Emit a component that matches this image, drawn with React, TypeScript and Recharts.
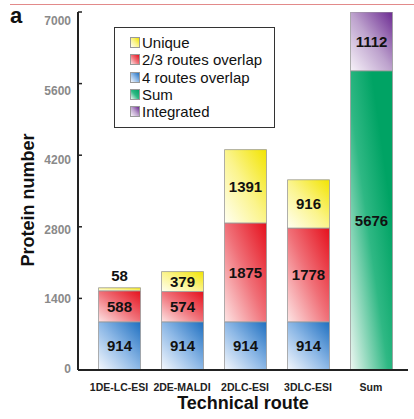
import { BarChart, Bar, XAxis, YAxis, Legend, LabelList } from "recharts";

const categories = ["1DE-LC-ESI", "2DE-MALDI", "2DLC-ESI", "3DLC-ESI", "Sum"];
const fourRoutes = [914, 914, 914, 914, null];
const twoThreeRoutes = [588, 574, 1875, 1778, null];
const uniqueValues = [58, 379, 1391, 916, null];
const sumValues = [null, null, null, null, 5676];
const integratedValues = [null, null, null, null, 1112];
const yTicks = [0, 1400, 2800, 4200, 5600, 7000];

const FONT = '"Liberation Sans", Arial, sans-serif';

// light (bottom-left) -> strong (top-right)
const gradients = {
  blue: ["#f5f8fd", "#8db8e6", "#1e6fc0"],
  red: ["#fde4e4", "#f07078", "#e5101c"],
  yellow: ["#fffff2", "#fbf48c", "#f2e400"],
  green: ["#eef7f2", "#2fb884", "#00a364"],
  purple: ["#f7f2f9", "#bda2cd", "#6c2a92"],
};

const legendItems = [
  { label: "Unique", color: "yellow" },
  { label: "2/3 routes overlap", color: "red" },
  { label: "4 routes overlap", color: "blue" },
  { label: "Sum", color: "green" },
  { label: "Integrated", color: "purple" },
];

const data = categories.map((name, i) => ({
  name,
  four: fourRoutes[i],
  twoThree: twoThreeRoutes[i],
  unique: uniqueValues[i],
  sum: sumValues[i],
  integrated: integratedValues[i],
}));

function renderBarLabel(props: any) {
  const { x, y, width, height, value } = props;
  if (value == null || !value) return null;
  const cx = Number(x) + Number(width) / 2;
  const cy = Number(height) < 18 ? Number(y) - 12 : Number(y) + Number(height) / 2;
  return (
    <text
      x={cx}
      y={cy}
      textAnchor="middle"
      dominantBaseline="central"
      fontSize={15}
      fontWeight={700}
      fontFamily={FONT}
      fill="#111"
    >
      {value}
    </text>
  );
}

// tick marks point inward (right of the axis line), labels sit a bit lower
function YTick(props: any) {
  const { x, y, payload } = props;
  const ax = x + 4;
  const v = payload.value;
  const off = v / 700 - 1;
  return (
    <g>
      <line x1={ax} x2={ax + 4} y1={y} y2={y} stroke="#222" strokeWidth={1.5} />
      <text
        x={ax - 7}
        y={y + off}
        textAnchor="end"
        dominantBaseline="central"
        fontSize={12}
        fontWeight={700}
        fontFamily={FONT}
        fill="#8a8a8a"
      >
        {v}
      </text>
    </g>
  );
}

function LegendBox() {
  return (
    <div
      style={{
        boxSizing: "border-box",
        width: 161,
        height: 101,
        border: "1.5px solid #333",
        background: "#fff",
        paddingTop: 6,
        paddingLeft: 15,
        fontFamily: FONT,
        fontSize: 15,
        color: "#111",
        textAlign: "left",
      }}
    >
      {legendItems.map((it) => {
        const g = gradients[it.color as keyof typeof gradients];
        return (
          <div key={it.label} style={{ height: 17.3, lineHeight: "17.3px", display: "flex", alignItems: "center" }}>
            <span
              style={{
                display: "inline-block",
                width: 8,
                height: 9,
                marginRight: 2,
                border: "0.5px solid #999",
                background: `linear-gradient(to top right, ${g[0]}, ${g[1]}, ${g[2]})`,
              }}
            />
            <span>{it.label}</span>
          </div>
        );
      })}
    </div>
  );
}

const barStroke = { stroke: "#9a9a9a", strokeWidth: 0.8 };

export default function App() {
  return (
    <div style={{ position: "absolute", left: 0, top: 0, width: 414, height: 419, background: "#fff", fontFamily: FONT }}>
      <div style={{ position: "absolute", left: 10, right: 0, top: 4, height: 1, background: "#e28a8a" }} />
      <div style={{ position: "absolute", left: 10, top: 3, fontSize: 22, fontWeight: 700, lineHeight: "26px", color: "#111" }}>
        a
      </div>
      <BarChart
        width={414}
        height={419}
        data={data}
        margin={{ top: 12, right: 6, left: 0, bottom: 0 }}
        barSize={42}
      >
        <defs>
          {Object.entries(gradients).map(([k, g]) => (
            <linearGradient key={k} id={`grad-${k}`} x1="0" y1="1" x2="1" y2="0">
              <stop offset="0%" stopColor={g[0]} />
              <stop offset={k === "green" ? "45%" : "50%"} stopColor={g[1]} />
              <stop offset={k === "green" ? "75%" : "100%"} stopColor={g[2]} />
              {k === "green" && <stop offset="100%" stopColor={g[2]} />}
            </linearGradient>
          ))}
        </defs>
        <XAxis
          dataKey="name"
          height={49}
          padding={{ left: 9.5, right: 5.5 }}
          tickLine={false}
          tickMargin={8}
          axisLine={{ stroke: "#222", strokeWidth: 2 }}
          tick={{ fill: "#222", fontSize: 10.5, fontWeight: 700, fontFamily: FONT }}
          label={{
            value: "Technical route",
            content: () => (
              <text x={243} y={403} textAnchor="middle" dominantBaseline="central" fontSize={18} fontWeight={700} fontFamily={FONT} fill="#111">
                Technical route
              </text>
            ),
          }}
        />
        <YAxis
          yAxisId="ticks"
          orientation="left"
          type="number"
          width={78}
          domain={[0, 7000]}
          ticks={yTicks}
          allowDataOverflow
          tickSize={4}
          tickMargin={0}
          tickLine={false}
          axisLine={{ stroke: "#222", strokeWidth: 2 }}
          tick={<YTick />}
          label={{
            value: "Protein number",
            content: () => (
              <text x={28} y={200} transform="rotate(-90 28 200)" textAnchor="middle" dominantBaseline="central" fontSize={18} fontWeight={700} fontFamily={FONT} fill="#111">
                Protein number
              </text>
            ),
          }}
        />
        <YAxis yAxisId="bars" orientation="right" width={0} type="number" hide domain={[0, 6790]} allowDataOverflow />
        <Legend
          layout="vertical"
          align="center"
          verticalAlign="middle"
          content={() => <LegendBox />}
          wrapperStyle={{ left: 114, top: 27, width: 161, height: 101 }}
        />
        <Bar dataKey="four" name="4 routes overlap" stackId="s" yAxisId="bars" fill="url(#grad-blue)" {...barStroke} isAnimationActive={false}>
          <LabelList dataKey="four" content={renderBarLabel} />
        </Bar>
        <Bar dataKey="twoThree" name="2/3 routes overlap" stackId="s" yAxisId="bars" fill="url(#grad-red)" {...barStroke} isAnimationActive={false}>
          <LabelList dataKey="twoThree" content={renderBarLabel} />
        </Bar>
        <Bar dataKey="unique" name="Unique" stackId="s" yAxisId="bars" fill="url(#grad-yellow)" {...barStroke} isAnimationActive={false}>
          <LabelList dataKey="unique" content={renderBarLabel} />
        </Bar>
        <Bar dataKey="sum" name="Sum" stackId="s" yAxisId="bars" fill="url(#grad-green)" {...barStroke} isAnimationActive={false}>
          <LabelList dataKey="sum" content={renderBarLabel} />
        </Bar>
        <Bar dataKey="integrated" name="Integrated" stackId="s" yAxisId="bars" fill="url(#grad-purple)" {...barStroke} isAnimationActive={false}>
          <LabelList dataKey="integrated" content={renderBarLabel} />
        </Bar>
      </BarChart>
    </div>
  );
}
